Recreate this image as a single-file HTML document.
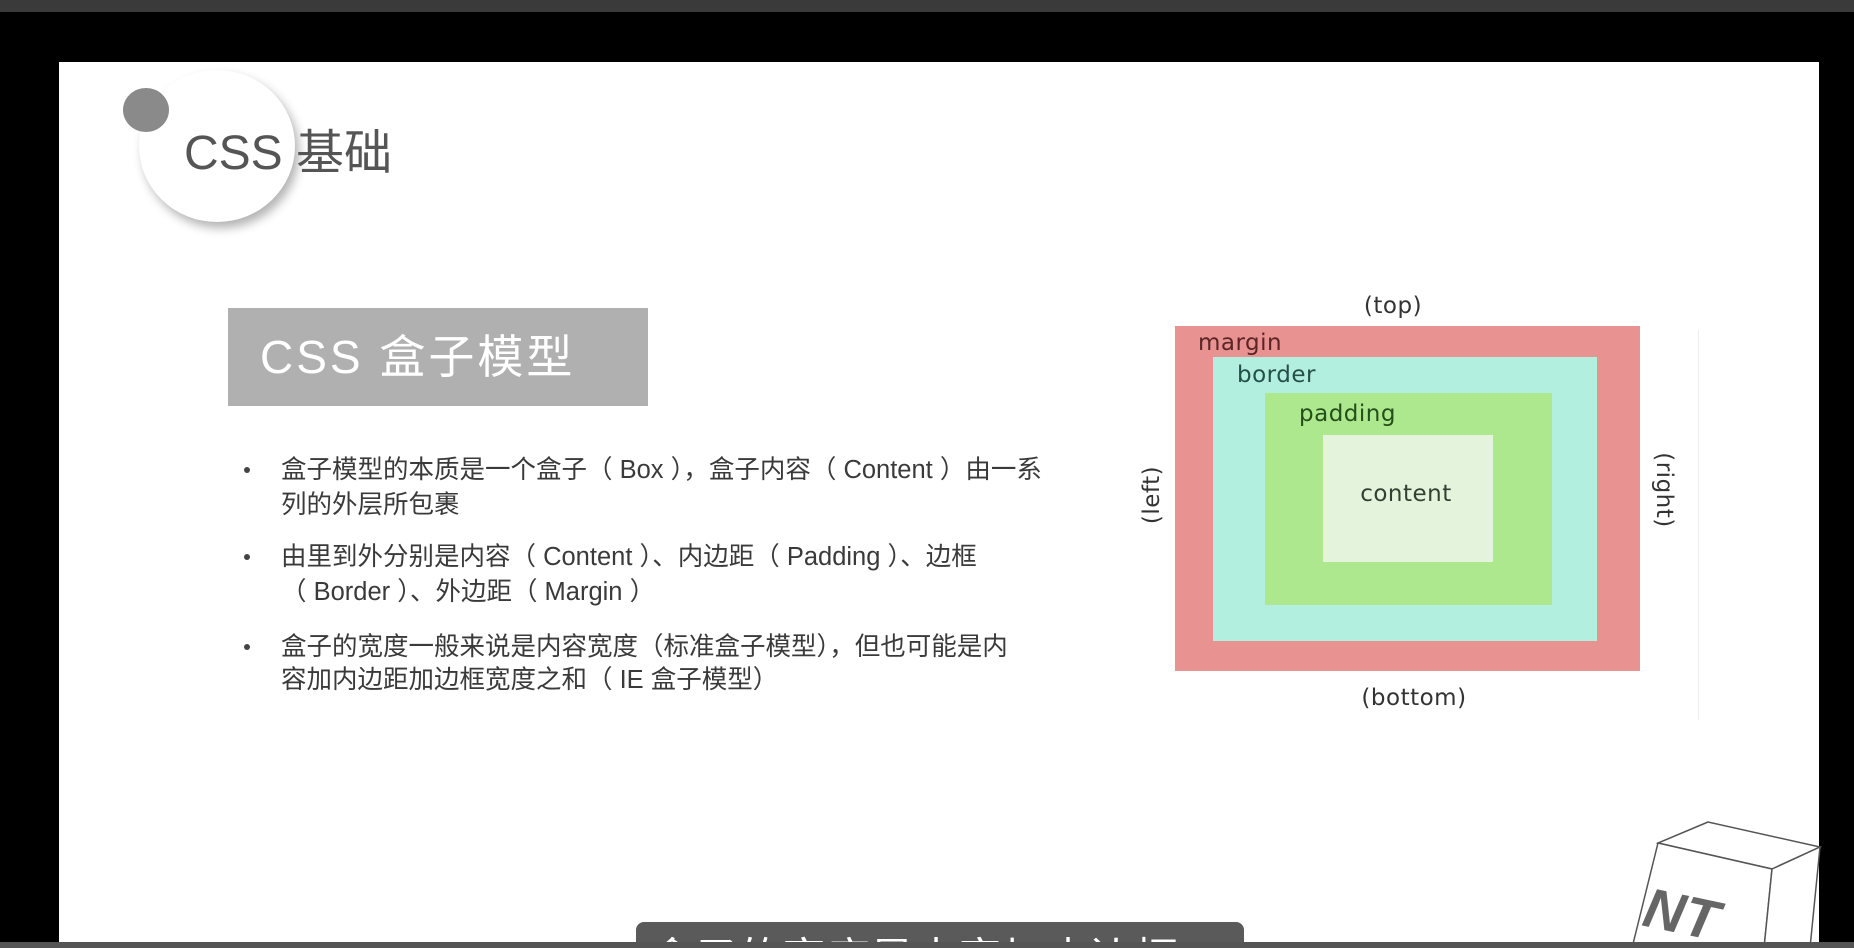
<!DOCTYPE html>
<html><head><meta charset="utf-8"><style>
html,body{margin:0;padding:0;width:1854px;height:948px;overflow:hidden;}
body{position:relative;background:#000;font-family:"Liberation Sans","Noto Sans CJK SC",sans-serif;}
.abs{position:absolute;}
.slide{left:59px;top:62px;width:1760px;height:880px;background:#fff;}
.line{position:absolute;left:281px;font-size:25.5px;color:#3a3a3a;white-space:nowrap;line-height:30px;}
.dot{position:absolute;left:244px;width:6px;height:6px;border-radius:50%;background:#444;}
.lbl{position:absolute;font-size:23px;white-space:nowrap;transform:translate(-50%,-50%);font-family:"DejaVu Sans","Liberation Sans",sans-serif;letter-spacing:0.5px;}
</style></head><body>
<div class="abs" style="left:0;top:0;width:1854px;height:12px;background:#3a3a3a"></div>
<div class="abs slide"></div>
<div class="abs" style="left:139px;top:70px;width:156px;height:152px;border-radius:50%;background:#fff;box-shadow:4px 6px 10px rgba(0,0,0,0.3)"></div>
<div class="abs" style="left:123px;top:88px;width:46px;height:44px;border-radius:50%;background:#8a8a8a"></div>
<div class="abs" style="left:184px;top:124px;font-size:48px;color:#555;white-space:nowrap;line-height:60px">CSS 基础</div>
<div class="abs" style="left:228px;top:308px;width:420px;height:98px;background:#b0b0b0"></div>
<div class="abs" style="left:260px;top:327px;font-size:46px;letter-spacing:3px;color:#fff;white-space:nowrap;line-height:60px">CSS 盒子模型</div>

<div class="dot" style="top:467px"></div>
<div class="line" style="top:455px">盒子模型的本质是一个盒子（ Box ），盒子内容（ Content ）由一系</div>
<div class="line" style="top:490px">列的外层所包裹</div>
<div class="dot" style="top:554px"></div>
<div class="line" style="top:542px">由里到外分别是内容（ Content ）、内边距（ Padding ）、边框</div>
<div class="line" style="top:577px">（ Border ）、外边距（ Margin ）</div>
<div class="dot" style="top:644px"></div>
<div class="line" style="top:632px">盒子的宽度一般来说是内容宽度（标准盒子模型），但也可能是内</div>
<div class="line" style="top:665px">容加内边距加边框宽度之和（ IE 盒子模型）</div>

<div class="abs" style="left:1175px;top:326px;width:465px;height:345px;background:#e89292"></div>
<div class="abs" style="left:1213px;top:357px;width:384px;height:284px;background:#b2efdf"></div>
<div class="abs" style="left:1265px;top:393px;width:287px;height:212px;background:#aee88e"></div>
<div class="abs" style="left:1323px;top:435px;width:170px;height:127px;background:#e4f4dc"></div>
<div class="abs" style="left:1698px;top:330px;width:1px;height:390px;background:#eee"></div>
<div class="lbl" style="left:1393px;top:306px;color:#333">(top)</div>
<div class="lbl" style="left:1414px;top:698px;color:#333">(bottom)</div>
<div class="lbl" style="left:1152px;top:495px;color:#333;transform:translate(-50%,-50%) rotate(-90deg)">(left)</div>
<div class="lbl" style="left:1664px;top:490px;color:#333;transform:translate(-50%,-50%) rotate(90deg)">(right)</div>
<div class="lbl" style="left:1198px;top:343px;color:#5b2525;transform:translate(0,-50%)">margin</div>
<div class="lbl" style="left:1237px;top:375px;color:#254f4a;transform:translate(0,-50%)">border</div>
<div class="lbl" style="left:1299px;top:414px;color:#254f18;transform:translate(0,-50%)">padding</div>
<div class="lbl" style="left:1406px;top:494px;color:#333f33">content</div>

<svg class="abs" style="left:0;top:0" width="1854" height="948">
<polygon points="1708,822 1658,843 1772,869 1820,847" fill="#fff" stroke="#555" stroke-width="1.5"/>
<polygon points="1658,843 1772,869 1764,948 1632,948" fill="#fff" stroke="#555" stroke-width="1.5"/>
<polygon points="1772,869 1820,847 1810,948 1764,948" fill="#fff" stroke="#555" stroke-width="1.5"/>
<text x="1645" y="935" font-family="Liberation Sans" font-weight="bold" font-style="italic" font-size="56" fill="#666" transform="rotate(12 1690 910)">NT</text>
</svg>
<div class="abs" style="left:636px;top:922px;width:608px;height:26px;border-radius:8px 8px 0 0;background:#5a5a5a;overflow:hidden">
<div class="abs" style="left:14px;top:8px;font-size:44px;color:#fff;white-space:nowrap;line-height:60px">盒子的宽度是内容加内边框</div>
</div>
<div class="abs" style="left:0;top:942px;width:1854px;height:6px;background:#555"></div>
</body></html>
